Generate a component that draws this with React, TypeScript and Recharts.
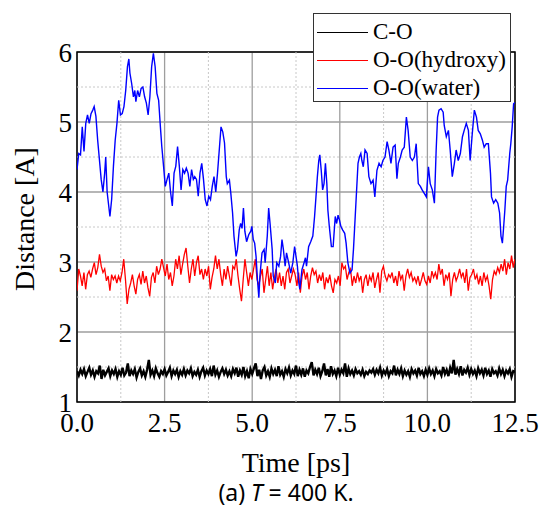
import { CartesianGrid, Label, Legend, Line, LineChart, ReferenceArea, ReferenceLine, XAxis, YAxis } from 'recharts'

const serif = '"Liberation Serif", "Times New Roman", serif'

const xTicks = [0, 2.5, 5, 7.5, 10, 12.5]
const yTicks = [1, 2, 3, 4, 5, 6]
const xMinor = [1.25, 3.75, 6.25, 8.75, 11.25]
const yMinor = [1.5, 2.5, 3.5, 4.5, 5.5]

const seriesNames = ['C-O', 'O-O(hydroxy)', 'O-O(water)']
const seriesColors = ['#000000', '#ff0000', '#0000ff']

// C-O distance, sampled every 0.05 ps
const coStep = 0.05
const coDist = [
  1.44, 1.38, 1.46, 1.40, 1.47, 1.37, 1.43, 1.49, 1.39, 1.45,
  1.36, 1.44, 1.41, 1.52, 1.33, 1.46, 1.38, 1.43, 1.48, 1.37,
  1.45, 1.40, 1.47, 1.36, 1.44, 1.39, 1.49, 1.38, 1.42, 1.55,
  1.37, 1.45, 1.40, 1.47, 1.35, 1.43, 1.48, 1.38, 1.44, 1.36,
  1.46, 1.60, 1.39, 1.45, 1.37, 1.48, 1.41, 1.36, 1.44, 1.40,
  1.47, 1.38, 1.43, 1.49, 1.37, 1.45, 1.40, 1.46, 1.36, 1.44,
  1.39, 1.47, 1.38, 1.45, 1.41, 1.48, 1.37, 1.43, 1.39, 1.46,
  1.36, 1.44, 1.49, 1.38, 1.45, 1.40, 1.47, 1.37, 1.52, 1.39,
  1.45, 1.36, 1.43, 1.48, 1.40, 1.46, 1.38, 1.44, 1.37, 1.47,
  1.41, 1.49, 1.36, 1.45, 1.39, 1.50, 1.37, 1.44, 1.34, 1.47,
  1.40, 1.48, 1.55, 1.37, 1.46, 1.33, 1.45, 1.50, 1.38, 1.44,
  1.36, 1.48, 1.40, 1.46, 1.37, 1.51, 1.39, 1.44, 1.36, 1.47,
  1.41, 1.49, 1.38, 1.45, 1.40, 1.52, 1.37, 1.46, 1.39, 1.48,
  1.36, 1.45, 1.41, 1.50, 1.57, 1.38, 1.46, 1.40, 1.49, 1.37,
  1.44, 1.55, 1.38, 1.47, 1.36, 1.51, 1.40, 1.45, 1.37, 1.49,
  1.39, 1.46, 1.41, 1.55, 1.36, 1.48, 1.40, 1.45, 1.38, 1.47,
  1.41, 1.44, 1.39, 1.46, 1.37, 1.43, 1.40, 1.45, 1.42, 1.47,
  1.39, 1.46, 1.41, 1.49, 1.38, 1.45, 1.40, 1.47, 1.37, 1.44,
  1.41, 1.52, 1.38, 1.46, 1.40, 1.48, 1.37, 1.45, 1.39, 1.44,
  1.36, 1.47, 1.41, 1.45, 1.38, 1.49, 1.40, 1.44, 1.37, 1.46,
  1.39, 1.48, 1.40, 1.45, 1.37, 1.47, 1.41, 1.44, 1.38, 1.50,
  1.40, 1.46, 1.37, 1.49, 1.41, 1.60, 1.39, 1.47, 1.40, 1.51,
  1.38, 1.46, 1.42, 1.49, 1.39, 1.47, 1.40, 1.45, 1.37, 1.48,
  1.41, 1.46, 1.38, 1.49, 1.40, 1.45, 1.36, 1.47, 1.41, 1.44,
  1.38, 1.48, 1.40, 1.46, 1.37, 1.45, 1.41, 1.47, 1.36, 1.44,
  1.43,
]

// O-O (hydroxy) distance, evenly spaced over 0–12.5 ps
const hydroxyDist = [
  2.59, 2.9, 2.8, 2.66, 2.85, 2.61, 2.82, 2.87, 2.78, 2.9,
  2.99, 2.82, 2.92, 3.11, 2.94, 2.85, 2.9, 2.73, 2.8, 2.59,
  2.82, 2.75, 2.8, 2.7, 2.8, 2.73, 2.85, 3.04, 2.75, 2.4,
  2.61, 2.7, 2.82, 2.66, 2.54, 2.75, 2.82, 2.68, 2.87, 2.7,
  2.8, 2.63, 2.51, 2.78, 2.85, 2.7, 2.94, 2.82, 2.9, 3.04,
  2.92, 2.8, 2.97, 2.75, 2.85, 2.66, 2.8, 3.04, 2.9, 3.09,
  2.82, 2.97, 3.11, 3.2, 2.94, 2.7, 2.9, 3.04, 2.8, 2.99,
  3.09, 2.82, 2.9, 2.75, 2.9, 2.8, 2.94, 2.61, 2.78, 2.9,
  3.09, 2.9, 3.04, 2.82, 2.66, 2.9, 2.75, 2.94, 2.8, 2.66,
  2.94, 2.9, 3.04, 2.8, 2.61, 2.44, 2.75, 3.04, 2.85, 2.66,
  2.85, 2.75, 2.9, 3.04, 2.75, 2.66, 2.8, 2.9, 2.56, 2.75,
  2.94, 2.66, 2.85, 2.61, 2.78, 2.9, 2.7, 2.85, 2.66, 2.8,
  2.61, 2.85, 2.9, 2.7, 2.8, 2.9, 2.82, 2.66, 2.85, 2.56,
  2.8, 2.9, 2.75, 2.85, 2.61, 2.8, 2.92, 2.82, 2.87, 2.7,
  2.82, 2.73, 2.85, 2.61, 2.78, 2.7, 2.82, 2.66, 2.56, 2.75,
  2.7, 2.8, 2.66, 2.99, 2.9, 2.94, 2.75, 2.85, 2.9, 2.66,
  2.8, 2.7, 2.85, 2.73, 2.8, 2.56, 2.75, 2.82, 2.66, 2.8,
  2.73, 2.85, 2.63, 2.75, 2.85, 2.56, 2.87, 2.94, 2.8, 2.73,
  2.82, 2.78, 2.85, 2.7, 2.8, 2.66, 2.87, 2.75, 2.82, 2.59,
  2.8, 2.9, 2.78, 2.85, 2.73, 2.78, 2.7, 2.8, 2.66, 2.75,
  2.85, 2.73, 2.68, 2.8, 2.7, 2.87, 2.78, 2.85, 2.75, 2.97,
  2.82, 2.9, 2.66, 2.82, 2.75, 2.85, 2.51, 2.75, 2.85, 2.73,
  2.8, 2.9, 2.78, 2.85, 2.7, 2.9, 2.59, 2.78, 2.82, 2.9,
  2.75, 2.82, 2.68, 2.8, 2.66, 2.85, 2.73, 2.8, 2.66, 2.47,
  2.75, 2.87, 2.82, 2.92, 2.85, 2.97, 2.87, 3.04, 2.82, 2.99,
  2.9, 3.09, 2.92, 3.04,
]

// O-O (water) distance
const waterTime = [
  0.00, 0.05, 0.10, 0.15, 0.20, 0.25, 0.30, 0.35, 0.40, 0.45,
  0.49, 0.54, 0.59, 0.64, 0.69, 0.74, 0.79, 0.82, 0.86, 0.94,
  0.99, 1.04, 1.09, 1.14, 1.19, 1.24, 1.29, 1.34, 1.39, 1.44,
  1.48, 1.51, 1.56, 1.61, 1.65, 1.68, 1.73, 1.78, 1.83, 1.88,
  1.93, 1.98, 2.03, 2.08, 2.13, 2.18, 2.23, 2.28, 2.33, 2.38,
  2.42, 2.47, 2.52, 2.57, 2.62, 2.67, 2.72, 2.77, 2.82, 2.87,
  2.92, 2.97, 3.02, 3.07, 3.12, 3.17, 3.22, 3.27, 3.32, 3.36,
  3.41, 3.46, 3.51, 3.56, 3.61, 3.66, 3.71, 3.76, 3.81, 3.86,
  3.91, 3.96, 4.01, 4.06, 4.11, 4.16, 4.21, 4.26,
  4.29, 4.35, 4.39, 4.44, 4.48, 4.54, 4.58, 4.63, 4.67, 4.71,
  4.75, 4.79, 4.84, 4.90, 4.96, 4.99, 5.03, 5.07, 5.11, 5.15,
  5.19, 5.22, 5.28, 5.34, 5.37, 5.43, 5.47, 5.51, 5.57, 5.60,
  5.66, 5.70, 5.76, 5.81, 5.85, 5.89, 5.94, 5.98, 6.04, 6.10,
  6.16, 6.21, 6.25, 6.29, 6.33, 6.36, 6.42, 6.48, 6.52, 6.55,
  6.61, 6.67, 6.73, 6.78, 6.82, 6.86, 6.90, 6.93, 6.97, 7.01,
  7.05, 7.09, 7.13, 7.16, 7.20, 7.26, 7.31, 7.37, 7.41, 7.45,
  7.49, 7.53, 7.58, 7.64, 7.68, 7.73, 7.79, 7.85, 7.89, 7.94,
  7.98, 8.02, 8.06, 8.10, 8.13, 8.17,
  8.22, 8.28, 8.33, 8.39, 8.45, 8.50, 8.56, 8.62, 8.68, 8.73,
  8.79, 8.85, 8.90, 8.96, 9.02, 9.08, 9.13, 9.17, 9.23, 9.28,
  9.34, 9.40, 9.45, 9.51, 9.57, 9.63, 9.68, 9.74, 9.80, 9.85,
  9.91, 9.97, 10.03, 10.08, 10.14, 10.20, 10.25, 10.29, 10.33, 10.39,
  10.45, 10.48, 10.54, 10.60, 10.65, 10.71, 10.77, 10.82, 10.88, 10.94,
  11.00, 11.05, 11.11, 11.17, 11.22, 11.28, 11.34, 11.40, 11.45, 11.51,
  11.57, 11.62, 11.68, 11.74, 11.80, 11.83, 11.89, 11.95, 12.01, 12.06,
  12.10, 12.14, 12.17, 12.21, 12.25, 12.29, 12.35, 12.38, 12.42, 12.46,
  12.50,
]
const waterDist = [
  4.32, 4.55, 4.53, 4.93, 4.58, 4.98, 5.10, 4.98, 5.12, 5.17,
  5.22, 5.08, 4.74, 4.46, 4.18, 4.00, 4.27, 4.50, 4.00, 3.65,
  3.90, 4.37, 4.74, 4.98, 5.31, 5.10, 5.12, 5.22, 5.45, 5.79,
  5.90, 5.70, 5.55, 5.36, 5.45, 5.29, 5.45, 5.36, 5.48, 5.50,
  5.36, 5.27, 5.10, 5.36, 5.79, 5.98, 5.79, 5.41, 5.31, 4.93,
  4.65, 4.37, 4.08, 4.18, 4.27, 4.00, 3.80, 4.27, 4.37, 4.65,
  4.37, 4.03, 4.32, 4.27, 4.34, 4.27, 4.08, 4.32, 4.18, 4.22,
  4.18, 3.94, 4.27, 4.41, 4.18, 3.89, 3.80, 3.94, 3.89, 4.08,
  4.22, 4.00, 4.27, 4.60, 4.93, 4.86, 4.70, 4.22,
  4.12, 4.17, 3.98, 3.70, 3.37, 3.08, 3.18, 3.46, 3.55, 3.48,
  3.77, 3.44, 3.29, 3.39, 3.44, 3.51, 3.32, 3.27, 3.08, 2.75,
  2.49, 2.80, 3.13, 3.18, 2.99, 3.37, 3.77, 3.55, 3.18, 2.80,
  2.70, 2.99, 2.94, 3.08, 3.32, 3.18, 2.94, 3.13, 2.99, 2.84,
  2.99, 3.22, 3.08, 2.94, 2.70, 2.61, 2.89, 2.99, 3.06, 2.94,
  3.22, 3.29, 3.37, 3.65, 3.93, 4.22, 4.45, 4.53, 4.31, 4.03,
  4.12, 4.41, 4.12, 3.74, 3.51, 3.22, 3.22, 3.65, 3.55, 3.67,
  3.60, 3.51, 3.46, 3.41, 3.27, 2.99, 2.84, 2.89, 3.18, 3.65,
  4.03, 4.41, 4.50, 4.55, 4.45, 4.36,
  4.60, 4.55, 4.22, 4.12, 4.17, 3.93, 4.31, 4.41, 4.36, 4.45,
  4.50, 4.72, 4.60, 4.41, 4.64, 4.67, 4.19, 4.41, 4.50, 4.60,
  4.64, 5.07, 4.88, 4.50, 4.45, 4.50, 4.69, 4.12, 4.08, 4.03,
  3.98, 3.93, 4.36, 4.12, 4.03, 3.84, 4.60, 5.07, 5.17, 5.19,
  5.14, 4.95, 4.79, 4.88, 4.60, 4.22, 4.41, 4.60, 4.45, 4.55,
  4.79, 4.88, 4.98, 4.88, 4.45, 4.83, 5.17, 5.07, 4.88, 4.83,
  4.74, 4.64, 4.69, 4.69, 4.27, 3.93, 3.84, 3.89, 3.84, 3.70,
  3.37, 3.27, 3.46, 3.74, 4.08, 4.17, 4.55, 4.69, 4.93, 5.26,
  5.28,
]

const coData = coDist.map((v, i) => ({ t: i * coStep, v }))
const hydroxyData = hydroxyDist.map((v, i) => ({ t: (i * 12.5) / (hydroxyDist.length - 1), v }))
const waterData = waterTime.map((t, i) => ({ t, v: waterDist[i] }))
const seriesData = [coData, hydroxyData, waterData]
const seriesWidths = [2.4, 1.3, 1.4]

const LegendBox = () => (
  <div
    style={{
      width: 198,
      height: 89,
      boxSizing: 'border-box',
      border: '1px solid #333',
      background: '#fff',
      padding: '4px 0 0 3px',
      fontFamily: serif,
      fontSize: 23,
      color: '#000',
    }}
  >
    {seriesNames.map((name, i) => (
      <div key={name} style={{ display: 'flex', alignItems: 'center', height: 28 }}>
        <div style={{ width: 51, height: 0, borderTop: `1.5px solid ${seriesColors[i]}` }} />
        <span style={{ marginLeft: 5, lineHeight: '28px', whiteSpace: 'nowrap' }}>{name}</span>
      </div>
    ))}
  </div>
)

export default function App() {
  return (
    <div style={{ position: 'absolute', left: 0, top: 0, width: 543, height: 518, background: '#fff' }}>
      <LineChart width={543} height={518} margin={{ top: 52, right: 28, bottom: 86, left: 27 }}>
        <CartesianGrid stroke="#9e9e9e" strokeWidth={1.3} />
        {xMinor.map((x) => (
          <ReferenceLine key={`x${x}`} x={x} stroke="#c8c8c8" strokeDasharray="2 2" />
        ))}
        {yMinor.map((y) => (
          <ReferenceLine key={`y${y}`} y={y} stroke="#c8c8c8" strokeDasharray="2 2" />
        ))}
        <XAxis
          dataKey="t"
          type="number"
          domain={[0, 12.5]}
          ticks={xTicks}
          allowDataOverflow
          tickFormatter={(v: number) => v.toFixed(1)}
          tick={{ fontSize: 27, fill: '#000', fontFamily: serif }}
          tickLine={false}
          axisLine={false}
          tickSize={0}
          tickMargin={11}
          height={30}
        >
          <Label
            content={() => (
              <text x={296} y={472} textAnchor="middle" fontSize={28} fontFamily={serif} fill="#000">
                Time [ps]
              </text>
            )}
          />
        </XAxis>
        <YAxis
          type="number"
          domain={[1, 6]}
          ticks={yTicks}
          allowDataOverflow
          tick={{ fontSize: 27, fill: '#000', fontFamily: serif }}
          tickLine={false}
          axisLine={false}
          tickSize={0}
          tickMargin={5}
          width={50}
        >
          <Label
            content={() => (
              <text
                x={34}
                y={219}
                transform="rotate(-90, 34, 219)"
                textAnchor="middle"
                fontSize={28}
                fontFamily={serif}
                fill="#000"
              >
                Distance [A]
              </text>
            )}
          />
        </YAxis>
        <ReferenceArea x1={0} x2={12.5} y1={1} y2={6} fill="none" stroke="#000" strokeWidth={1.5} />
        {seriesNames.map((name, i) => (
          <Line
            key={name}
            data={seriesData[i]}
            dataKey="v"
            name={name}
            type="linear"
            stroke={seriesColors[i]}
            strokeWidth={seriesWidths[i]}
            dot={false}
            activeDot={false}
            isAnimationActive={false}
          />
        ))}
        <Legend
          layout="vertical"
          align="center"
          verticalAlign="middle"
          content={() => <LegendBox />}
          wrapperStyle={{ top: 13, left: 313, width: 198, height: 89 }}
        />
      </LineChart>
      <div
        style={{
          position: 'absolute',
          top: 480,
          left: 0,
          width: 572,
          textAlign: 'center',
          fontFamily: '"Noto Sans", sans-serif',
          fontSize: 23,
          lineHeight: '24px',
          color: '#000',
        }}
      >
        (a) <i>T</i> = 400 K.
      </div>
    </div>
  )
}
